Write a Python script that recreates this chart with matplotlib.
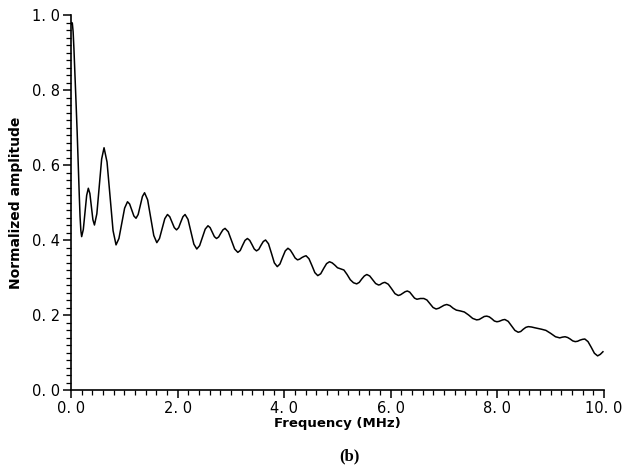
import matplotlib
matplotlib.use("Agg")
import matplotlib.pyplot as plt
from matplotlib.ticker import MultipleLocator

freq = [0.000, 0.012, 0.025, 0.040, 0.055, 0.075, 0.095, 0.115, 0.137, 0.155, 0.170, 0.185, 0.200,
        0.231, 0.263, 0.294, 0.325, 0.354, 0.383, 0.411, 0.440,
        0.485, 0.530, 0.575, 0.620, 0.676, 0.733, 0.789, 0.845,
        0.899, 0.953, 1.006, 1.060, 1.100, 1.140, 1.180, 1.220,
        1.260, 1.300, 1.340, 1.380, 1.438, 1.495, 1.553, 1.610,
        1.660, 1.710, 1.760, 1.810, 1.853, 1.895, 1.938, 1.980,
        2.020, 2.060, 2.100, 2.140, 2.195, 2.250, 2.305, 2.360,
        2.413, 2.465, 2.518, 2.570, 2.610, 2.650, 2.690, 2.730,
        2.770, 2.810, 2.850, 2.890, 2.950, 3.010, 3.070, 3.130,
        3.175, 3.220, 3.265, 3.310, 3.353, 3.395, 3.438, 3.480,
        3.523, 3.565, 3.608, 3.650, 3.705, 3.760, 3.815, 3.870,
        3.920, 3.970, 4.020, 4.070, 4.115, 4.160, 4.205, 4.250,
        4.290, 4.330, 4.370, 4.410, 4.465, 4.520, 4.575, 4.630,
        4.685, 4.740, 4.795, 4.850, 4.900, 4.950, 5.000, 5.060,
        5.120, 5.180, 5.240, 5.300, 5.360, 5.408, 5.455, 5.503, 5.550,
        5.605, 5.660, 5.715, 5.770, 5.800, 5.830, 5.860, 5.890,
        5.953, 6.015, 6.078, 6.140, 6.183, 6.225, 6.268, 6.310,
        6.355, 6.400, 6.445, 6.490, 6.555, 6.620, 6.678, 6.735, 6.793, 6.850,
        6.900, 6.950, 7.000, 7.050, 7.110, 7.170, 7.230, 7.300,
        7.380, 7.460, 7.535, 7.610, 7.658, 7.705, 7.753, 7.800,
        7.848, 7.895, 7.943, 7.990, 8.030, 8.065, 8.100, 8.140,
        8.203, 8.265, 8.328, 8.390, 8.438, 8.485, 8.533, 8.580,
        8.640, 8.700, 8.770, 8.830, 8.910, 9.000, 9.090, 9.170,
        9.220, 9.270, 9.318, 9.365, 9.413, 9.460, 9.505, 9.550, 9.595, 9.640,
        9.700, 9.760, 9.820, 9.880, 9.930, 9.980]
amplitude = [0.975, 0.980, 0.978, 0.955, 0.910, 0.840, 0.765, 0.690, 0.595, 0.520, 0.462, 0.425, 0.409,
             0.428, 0.474, 0.519, 0.538, 0.524, 0.489, 0.454, 0.440,
             0.470, 0.543, 0.616, 0.646, 0.608, 0.517, 0.425, 0.387,
             0.404, 0.445, 0.485, 0.502, 0.496, 0.480, 0.464, 0.458,
             0.468, 0.492, 0.516, 0.526, 0.507, 0.460, 0.412, 0.393,
             0.404, 0.431, 0.457, 0.468, 0.462, 0.448, 0.433, 0.427,
             0.433, 0.448, 0.462, 0.468, 0.455, 0.422, 0.389, 0.376,
             0.385, 0.407, 0.429, 0.438, 0.433, 0.421, 0.409, 0.404,
             0.408, 0.418, 0.427, 0.431, 0.422, 0.399, 0.376, 0.367,
             0.372, 0.386, 0.399, 0.404, 0.399, 0.388, 0.376, 0.371,
             0.375, 0.386, 0.396, 0.400, 0.390, 0.365, 0.339, 0.329,
             0.336, 0.354, 0.371, 0.378, 0.373, 0.363, 0.352, 0.347,
             0.349, 0.353, 0.356, 0.358, 0.350, 0.332, 0.313, 0.305,
             0.310, 0.324, 0.337, 0.342, 0.339, 0.333, 0.326, 0.323,
             0.320, 0.308, 0.294, 0.286, 0.283, 0.287, 0.296, 0.304, 0.308,
             0.304, 0.294, 0.284, 0.280, 0.281, 0.284, 0.286, 0.287,
             0.282, 0.270, 0.257, 0.252, 0.254, 0.258, 0.262, 0.264,
             0.261, 0.253, 0.245, 0.242, 0.244, 0.244, 0.240, 0.230, 0.220, 0.216,
             0.218, 0.222, 0.226, 0.228, 0.225, 0.218, 0.213, 0.211,
             0.208, 0.200, 0.191, 0.187, 0.188, 0.192, 0.196, 0.197,
             0.195, 0.190, 0.184, 0.182, 0.183, 0.185, 0.187, 0.188,
             0.183, 0.171, 0.159, 0.154, 0.156, 0.162, 0.167, 0.169,
             0.168, 0.166, 0.164, 0.162, 0.159, 0.151, 0.142, 0.139,
             0.141, 0.142, 0.140, 0.136, 0.131, 0.129, 0.130, 0.133, 0.135, 0.136,
             0.129, 0.114, 0.098, 0.091, 0.095, 0.102]

x_ticks = [0, 2, 4, 6, 8, 10]
x_labels = ["0. 0", "2. 0", "4. 0", "6. 0", "8. 0", "10. 0"]
y_ticks = [0.0, 0.2, 0.4, 0.6, 0.8, 1.0]
y_labels = ["0. 0", "0. 2", "0. 4", "0. 6", "0. 8", "1. 0"]

fig = plt.figure(figsize=(6.29, 4.68), dpi=100)
ax = fig.add_axes([71/629, 1-390/468, (604-71)/629, 375/468])
ax.plot(freq, amplitude, color="black", lw=1.1)
ax.set_xlim(0, 10)
ax.set_ylim(0, 1.0)
for s in ["top", "right"]:
    ax.spines[s].set_visible(False)
for s in ["left", "bottom"]:
    ax.spines[s].set_linewidth(1.2)
ax.set_xticks(x_ticks)
ax.set_xticklabels(x_labels)
ax.set_yticks(y_ticks)
ax.set_yticklabels(y_labels)
ax.xaxis.set_minor_locator(MultipleLocator(0.2))
ax.yaxis.set_minor_locator(MultipleLocator(0.02))
ax.tick_params(which="major", direction="out", length=6, width=1.1, labelsize=10.5, pad=2)
ax.tick_params(which="minor", direction="out", length=3.5, width=0.9)
ax.set_xlabel("Frequency (MHz)", fontsize=9.5, weight="bold", labelpad=1)
ax.set_ylabel("Normalized amplitude", fontsize=10, weight="bold", labelpad=6)
fig.text(349/629, 1-456/468, "(b)", family="Liberation Serif", weight="bold",
         fontsize=12, ha="center", va="center")
fig.savefig("out.png", dpi=100)
